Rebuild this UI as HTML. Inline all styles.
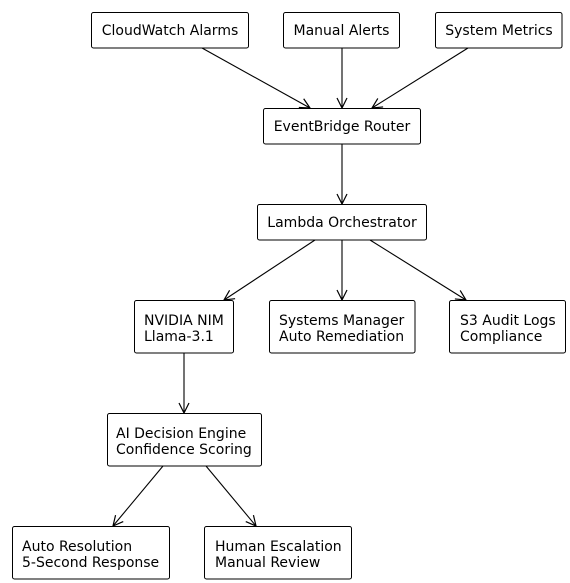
<!DOCTYPE html>
<html><head><style>body{margin:0;background:#fff}svg{display:block}text{font-family:"DejaVu Sans","Liberation Sans",sans-serif;font-size:14px;fill:#000}</style></head>
<body>
<svg width="570" height="583" xmlns="http://www.w3.org/2000/svg">
<defs><marker id="a" markerWidth="12" markerHeight="12" refX="11" refY="6" orient="auto" markerUnits="userSpaceOnUse"><path d="M1,1 L11,6 L1,11" fill="none" stroke="#000" stroke-width="1.2"/></marker></defs>
<g fill="#fff" stroke="#000" stroke-width="1">
<rect x="91.5" y="12.5" width="157" height="35.5" rx="2"/>
<rect x="283.5" y="12.5" width="116" height="35.5" rx="2"/>
<rect x="435.5" y="12.5" width="126.5" height="35.5" rx="2"/>
<rect x="263.5" y="108.5" width="157" height="35.5" rx="2"/>
<rect x="257.5" y="204.5" width="169" height="35.5" rx="2"/>
<rect x="134.5" y="300.5" width="99" height="52.5" rx="2"/>
<rect x="269.5" y="300.5" width="145.5" height="52.5" rx="2"/>
<rect x="449.5" y="300.5" width="116" height="52.5" rx="2"/>
<rect x="107.5" y="413.5" width="154" height="52.5" rx="2"/>
<rect x="12.5" y="526.5" width="157" height="52.5" rx="2"/>
<rect x="204.5" y="526.5" width="147" height="52.5" rx="2"/>
</g>
<g stroke="#000" stroke-width="1.1" marker-end="url(#a)">
<line x1="202" y1="48" x2="310" y2="108"/>
<line x1="342" y1="48" x2="342" y2="108"/>
<line x1="468" y1="48" x2="372" y2="108"/>
<line x1="342" y1="144" x2="342" y2="204"/>
<line x1="315" y1="240" x2="224" y2="300"/>
<line x1="342" y1="240" x2="342" y2="300"/>
<line x1="370" y1="240" x2="466" y2="300"/>
<line x1="184" y1="353" x2="184" y2="413"/>
<line x1="163" y1="466" x2="113" y2="526"/>
<line x1="206" y1="466" x2="256" y2="526"/>
</g>
<text x="170" y="35" text-anchor="middle">CloudWatch Alarms</text>
<text x="341.5" y="35" text-anchor="middle">Manual Alerts</text>
<text x="499" y="35" text-anchor="middle">System Metrics</text>
<text x="342" y="131" text-anchor="middle">EventBridge Router</text>
<text x="342" y="227" text-anchor="middle">Lambda Orchestrator</text>
<text x="144" y="325">NVIDIA NIM</text><text x="144" y="341">Llama-3.1</text>
<text x="279" y="325">Systems Manager</text><text x="279" y="341">Auto Remediation</text>
<text x="460" y="325">S3 Audit Logs</text><text x="460" y="341">Compliance</text>
<text x="116" y="438">AI Decision Engine</text><text x="116" y="454">Confidence Scoring</text>
<text x="22" y="551">Auto Resolution</text><text x="22" y="567">5-Second Response</text>
<text x="215" y="551">Human Escalation</text><text x="215" y="567">Manual Review</text>
</svg>
</body></html>
